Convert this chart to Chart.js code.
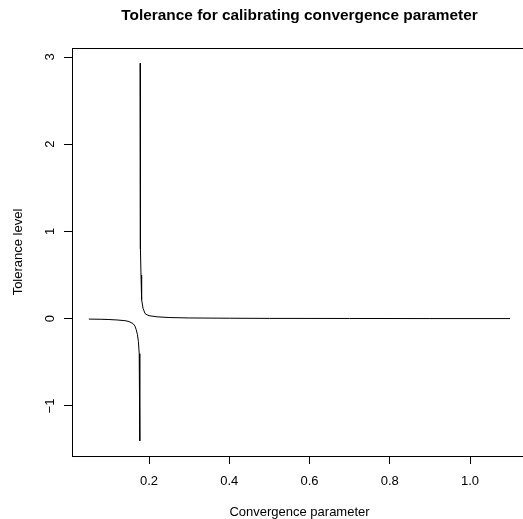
<!DOCTYPE html>
<html>
<head>
<meta charset="utf-8">
<title>Tolerance for calibrating convergence parameter</title>
<script src="https://cdn.jsdelivr.net/npm/chart.js@4.4.1/dist/chart.umd.min.js"></script>
<style>
  html, body { margin: 0; padding: 0; background: #fff; overflow: hidden; }
  #chart { display: block; width: 528px; height: 519px; }
</style>
</head>
<body>
<canvas id="chart" width="528" height="519"></canvas>
<script>
// Branch left of the pole
const lowerX = [0.05, 0.08, 0.10, 0.12, 0.14, 0.15, 0.16, 0.165, 0.168, 0.171, 0.1735, 0.1755, 0.1765, 0.1770, 0.1773];
const lowerY = [-0.004, -0.006, -0.009, -0.014, -0.022, -0.032, -0.055, -0.085, -0.125, -0.18, -0.26, -0.4, -0.65, -1.0, -1.4];

// Branch right of the pole
const upperX = [0.1777, 0.1780, 0.1785, 0.1790, 0.1800, 0.1810, 0.1820, 0.1850, 0.1900, 0.1950, 0.2000, 0.2200, 0.2500, 0.3000, 0.4000, 0.5000, 0.7000, 0.9000, 1.1000];
const upperY = [2.93, 2.0, 1.2, 0.8, 0.5, 0.3, 0.22, 0.12, 0.06, 0.045, 0.035, 0.022, 0.014, 0.009, 0.006, 0.004, 0.003, 0.002, 0.002];

const xTicks = [0.2, 0.4, 0.6, 0.8, 1.0];
const xTickLabels = ['0.2', '0.4', '0.6', '0.8', '1.0'];
const yTicks = [-1, 0, 1, 2, 3];
const yTickLabels = ['\u22121', '0', '1', '2', '3'];

const mainTitle = 'Tolerance for calibrating convergence parameter';

// R style axis range: data range plus 4% on each side
function rRange(values) {
    const lo = Math.min(...values);
    const hi = Math.max(...values);
    const pad = (hi - lo) * 0.04;
    return [lo - pad, hi + pad];
}
const xRange = rRange(lowerX.concat(upperX));
const yRange = rRange(lowerY.concat(upperY));

function toPoints(xs, ys) {
    return xs.map((x, i) => ({ x: x, y: ys[i] }));
}

const fontFamily = '"Liberation Sans", Arial, Helvetica, sans-serif';
Chart.defaults.font.family = fontFamily;
Chart.defaults.font.size = 13;
Chart.defaults.color = '#000';

// Box around the plot region and the main title centred over it, like R
const plotFrame = {
    id: 'plotFrame',
    afterDraw(chart) {
        const a = chart.chartArea;
        const ctx = chart.ctx;
        ctx.save();
        ctx.strokeStyle = '#000';
        ctx.lineWidth = 1;
        ctx.strokeRect(Math.round(a.left) + 0.5, Math.round(a.top) + 0.5,
            Math.round(a.right - a.left), Math.round(a.bottom - a.top));

        ctx.fillStyle = '#000';
        ctx.font = 'bold 15.4px ' + fontFamily;
        ctx.textAlign = 'center';
        ctx.textBaseline = 'middle';
        ctx.fillText(mainTitle, (a.left + a.right) / 2, 16);
        ctx.restore();
    }
};

const lineStyle = {
    borderColor: '#000',
    borderWidth: 1,
    pointRadius: 0,
    tension: 0,
    fill: false
};

new Chart(document.getElementById('chart'), {
    type: 'line',
    data: {
        datasets: [
            Object.assign({ label: 'lower', data: toPoints(lowerX, lowerY) }, lineStyle),
            Object.assign({ label: 'upper', data: toPoints(upperX, upperY) }, lineStyle)
        ]
    },
    options: {
        responsive: false,
        animation: false,
        layout: { padding: { left: 0, right: 1, top: 48, bottom: 0 } },
        plugins: {
            legend: { display: false },
            tooltip: { enabled: false },
            title: { display: false }
        },
        scales: {
            x: {
                type: 'linear',
                min: xRange[0],
                max: xRange[1],
                afterBuildTicks: scale => { scale.ticks = xTicks.map(v => ({ value: v })); },
                afterFit: scale => { scale.height = 63; },
                ticks: {
                    autoSkip: false,
                    maxRotation: 0,
                    padding: 10,
                    callback: (value, index) => xTickLabels[index]
                },
                grid: { drawOnChartArea: false, drawTicks: true, tickLength: 8, tickColor: '#000', color: '#000' },
                border: { display: false },
                title: { display: true, text: 'Convergence parameter', padding: { top: 0, bottom: -1 } }
            },
            y: {
                type: 'linear',
                min: yRange[0],
                max: yRange[1],
                afterBuildTicks: scale => { scale.ticks = yTicks.map(v => ({ value: v })); },
                afterFit: scale => { scale.width = 72; },
                ticks: {
                    autoSkip: false,
                    minRotation: 90,
                    maxRotation: 90,
                    crossAlign: 'center',
                    padding: 6,
                    callback: (value, index) => yTickLabels[index]
                },
                grid: { drawOnChartArea: false, drawTicks: true, tickLength: 8, tickColor: '#000', color: '#000' },
                border: { display: false },
                title: { display: true, text: 'Tolerance level', padding: { top: 10.5, bottom: 0 } }
            }
        }
    },
    plugins: [plotFrame]
});
</script>
</body>
</html>
